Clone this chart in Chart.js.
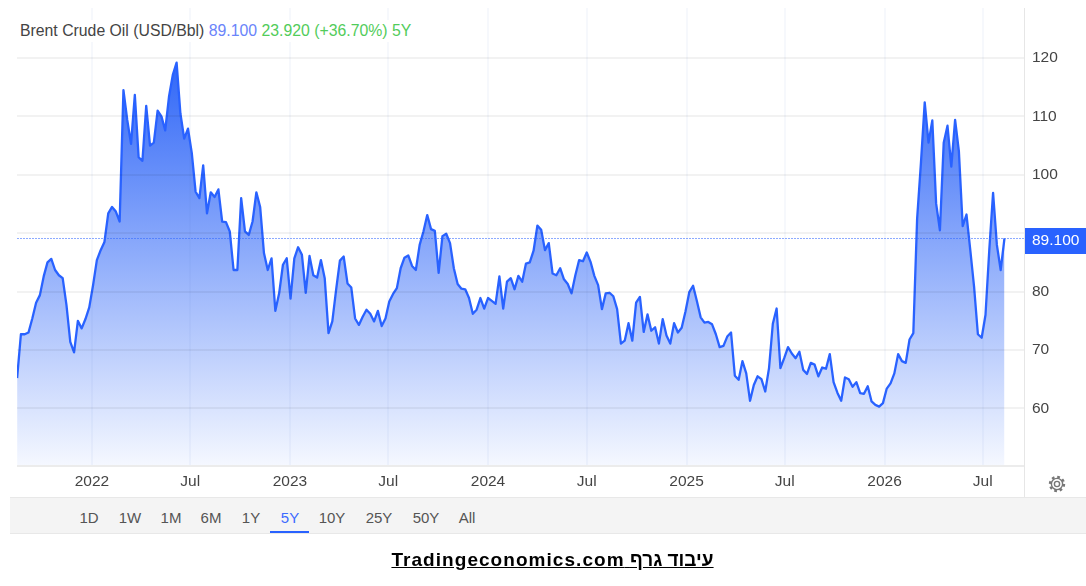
<!DOCTYPE html>
<html>
<head>
<meta charset="utf-8">
<title>Brent Crude Oil</title>
<script src="https://cdn.jsdelivr.net/npm/chart.js@4"></script>
<style>
body{margin:0;background:#fff;font-family:"Liberation Sans",Arial,sans-serif;width:1086px;height:586px;overflow:hidden;position:relative}
canvas{position:absolute;left:0;top:0}
#head{position:absolute;left:17px;top:20px;height:22px;line-height:22px;font-size:15.8px;background:#fff;padding:0 4px 0 3px;color:#444;white-space:nowrap}
#head .last{color:#6a84fa}
#head .chg{color:#52cc5a}
#bar{position:absolute;left:10px;top:497px;width:1076px;height:37px;background:#f4f4f4;border-top:1px solid #e8e8e8;border-bottom:1px solid #e8e8e8;box-sizing:border-box}
#bar span{position:absolute;top:11px;font-size:15px;line-height:17px;color:#555;transform:translateX(-50%)}
#bar span.on{color:#3d6bff}
#bar i{position:absolute;left:260px;top:33px;width:39px;height:2px;background:#2962ff}
#foot{position:absolute;left:0;top:549px;width:1105px;text-align:center;font-size:19px;line-height:22px;font-weight:bold;color:#000;text-decoration:underline}
#foot b{letter-spacing:1.05px}
#tick{position:absolute;left:1024px;top:8px;width:1px;height:489px;background:#e6e6e6}
#base{position:absolute;left:17px;top:465px;width:1007px;height:2px;background:#ececec}
#gear{position:absolute;left:1048px;top:475px}
</style>
</head>
<body>
<canvas id="mychart" width="1086" height="586"></canvas>
<div id="head">Brent Crude Oil (USD/Bbl) <span class="last">89.100</span> <span class="chg">23.920</span> <span class="chg">(+36.70%)</span> <span class="chg">5Y</span></div>
<div id="tick"></div>
<div id="base"></div>
<svg id="gear" width="18" height="18" viewBox="0 0 18 18" fill="none" stroke="#777" stroke-width="1.4">
<circle cx="9" cy="9" r="2.6"/>
<circle cx="9" cy="9" r="5.6"/>
<circle cx="9" cy="9" r="7" stroke-width="2.4" stroke-dasharray="2.7 2.8"/>
</svg>
<div id="bar"></div>
<div id="foot"><b>Tradingeconomics.com</b> עיבוד גרף</div>
<script>
// weekly closes
var prices = [
65.2,72.7,72.7,73.0,75.4,78.1,79.4,82.6,85.0,85.6,83.7,82.8,82.3,77.7,71.4,69.6,75.0,73.7,75.3,77.3,
81.1,85.4,87.1,88.5,93.4,94.5,93.7,92.0,114.5,109.4,105.3,113.7,103.0,102.4,111.8,105.0,105.5,111.0,110.0,107.6,
113.4,117.1,119.2,110.5,106.2,107.9,103.7,97.1,96.0,101.6,93.4,97.0,96.2,97.5,92.0,91.9,90.3,83.7,83.7,96.0,
90.3,89.7,92.0,97.0,94.5,86.6,83.7,85.7,76.7,79.7,84.6,85.7,78.8,85.7,87.6,86.3,79.8,86.1,82.8,82.4,
85.4,82.3,72.9,74.9,80.3,85.3,86.0,81.4,80.7,75.4,74.3,75.7,76.9,76.2,74.9,76.7,74.1,75.4,78.3,79.6,
80.6,84.0,85.8,86.2,84.4,83.7,88.0,90.3,93.1,90.7,90.4,83.2,89.5,89.9,88.3,84.0,81.3,80.5,80.4,78.9,
76.2,76.9,78.9,77.1,78.9,78.4,77.9,82.6,77.1,81.7,82.3,80.4,82.7,81.7,84.8,85.0,87.0,91.3,90.6,87.1,
88.3,83.1,82.8,84.0,82.1,81.3,79.7,82.8,85.4,85.2,86.7,85.1,82.7,81.1,77.0,79.7,79.8,79.2,77.0,71.1,
71.6,74.6,71.6,78.1,79.1,73.1,76.1,73.3,73.9,71.1,75.3,72.5,71.1,74.6,73.0,73.8,76.6,79.9,81.0,78.4,
75.6,74.7,74.8,74.4,72.7,70.5,70.7,72.3,73.0,65.6,64.9,68.1,66.0,61.3,64.0,65.5,65.0,62.9,66.9,74.5,
77.1,66.9,68.6,70.5,69.4,68.6,69.7,66.6,65.9,67.8,67.5,65.5,67.0,66.8,69.3,64.5,62.7,61.3,65.3,65.0,
63.7,64.5,62.6,62.5,63.8,61.2,60.6,60.3,60.9,63.4,64.3,66.0,69.3,68.1,67.8,71.8,72.9,92.5,102.0,112.4,
105.5,109.3,95.1,90.5,105.5,108.4,101.4,109.4,104.0,91.2,93.2,87.1,80.8,72.7,72.1,76.0,87.1,96.9,88.0,83.7,
89.1
];
var firstWeekDay = -138; // days from 1 Jan 2022
var weekDays = prices.map(function(p,i){ return firstWeekDay + i*7; });

var xTickDays = [0,181,365,546,730,912,1096,1277,1461,1642];
var xTickLabels = ["2022","Jul","2023","Jul","2024","Jul","2025","Jul","2026","Jul"];
var yTicks = [60,70,80,90,100,110,120];
var lastPrice = "89.100";
var ranges = ["1D","1W","1M","6M","1Y","5Y","10Y","25Y","50Y","All"];
var rangeCentres = [79,120,161,201,241,280,322,369,416,457];

var bar = document.getElementById("bar");
ranges.forEach(function(r,i){
    var s = document.createElement("span");
    s.textContent = r;
    s.style.left = rangeCentres[i] + "px";
    if(r == "5Y") s.className = "on";
    bar.appendChild(s);
});
bar.appendChild(document.createElement("i"));

// dotted last price line and the blue box on the axis
var lastLine = {
    id:"lastLine",
    afterDraw:function(chart){
        var c = chart.ctx, a = chart.chartArea;
        var y = Math.round(chart.scales.y.getPixelForValue(parseFloat(lastPrice))) + 0.5;
        c.save();
        c.strokeStyle = "#2f66ff";
        c.globalAlpha = 0.55;
        c.lineWidth = 1;
        c.setLineDash([2,1]);
        c.beginPath();
        c.moveTo(a.left,y);
        c.lineTo(a.right,y);
        c.stroke();
        c.globalAlpha = 1;
        c.fillStyle = "#2962ff";
        c.fillRect(a.right+1,y-10.5,61,26);
        c.fillStyle = "#fff";
        c.font = "15.5px 'Liberation Sans'";
        c.textBaseline = "middle";
        c.fillText(lastPrice,a.right+8,y+2.5);
        c.restore();
    }
};

var chart = new Chart(document.getElementById("mychart"),{
    type:"line",
    data:{
        labels:weekDays,
        datasets:[{
            data:prices,
            borderColor:"#2962ff",
            borderWidth:2.3,
            borderJoinStyle:"round",
            pointRadius:0,
            tension:0,
            fill:"start",
            backgroundColor:function(ctx){
                var g = ctx.chart.ctx.createLinearGradient(0,60,0,466);
                g.addColorStop(0,"rgb(47,102,247)");
                g.addColorStop(1,"rgb(245,248,255)");
                return g;
            }
        }]
    },
    options:{
        responsive:false,
        animation:false,
        layout:{padding:{left:17,top:8,right:0,bottom:0}},
        plugins:{legend:{display:false},tooltip:{enabled:false}},
        scales:{
            x:{
                type:"linear",
                min:-138.2,
                max:1718,
                afterBuildTicks:function(s){ s.ticks = xTickDays.map(function(d){ return {value:d}; }); },
                afterFit:function(s){ s.height = 120; s.paddingLeft = 0; s.paddingRight = 0; },
                grid:{color:"rgba(70,120,190,0.05)",lineWidth:2,drawTicks:false,z:1},
                border:{display:false},
                ticks:{
                    autoSkip:false,
                    maxRotation:0,
                    padding:6,
                    color:"#444",
                    font:{family:"Liberation Sans",size:15.5},
                    callback:function(v){ return xTickLabels[xTickDays.indexOf(v)]; }
                }
            },
            y:{
                position:"right",
                min:50.14,
                max:128.56,
                afterBuildTicks:function(s){ s.ticks = yTicks.map(function(v){ return {value:v}; }); },
                afterFit:function(s){ s.width = 62; s.paddingTop = 0; s.paddingBottom = 0; },
                grid:{color:"rgba(0,0,0,0.05)",lineWidth:2,drawTicks:false,z:1},
                border:{display:false},
                ticks:{
                    padding:8,
                    color:"#444",
                    font:{family:"Liberation Sans",size:15.5},
                    callback:function(v){ return v == 90 ? "" : v; }
                }
            }
        }
    },
    plugins:[lastLine]
});
</script>
</body>
</html>
